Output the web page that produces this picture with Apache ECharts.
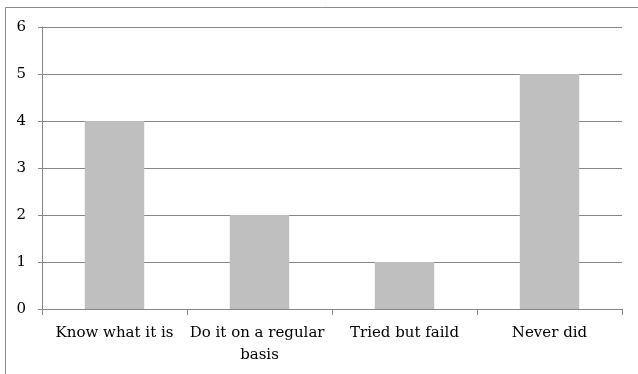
<!DOCTYPE html>
<html><head><meta charset="utf-8">
<script src="https://cdn.jsdelivr.net/npm/echarts@6/dist/echarts.min.js"></script>
<style>html,body{margin:0;padding:0;background:#fff}#c{width:638px;height:374px}</style>
</head><body><div id="c"></div>
<script>
const categories = ["Know what it is", "Do it on a regular basis", "Tried but faild", "Never did"];
const values = [4, 2, 1, 5];
const yTicks = [0, 1, 2, 3, 4, 5, 6];

const chart = echarts.init(document.getElementById('c'), null, {renderer: 'canvas'});
const font = "'DejaVu Serif', serif";
chart.setOption({
  animation: false,
  graphic: [{
    type: 'rect', shape: {x: 5.5, y: 7.5, width: 700, height: 400},
    style: {fill: 'none', stroke: '#8c8c8c', lineWidth: 1}, silent: true
  }],
  grid: {left: 42, right: 16, top: 27, bottom: 65, containLabel: false},
  xAxis: {
    type: 'category', data: categories,
    axisLine: {lineStyle: {color: '#878787', width: 1}},
    axisTick: {show: true, length: 6, alignWithLabel: false, lineStyle: {color: '#878787'}},
    axisLabel: {color: '#000', fontFamily: font, fontSize: 15, margin: 13, interval: 0,
      width: 142, overflow: 'break', lineHeight: 22}
  },
  yAxis: {
    type: 'value', min: yTicks[0], max: yTicks[yTicks.length - 1], interval: 1,
    axisLine: {show: true, lineStyle: {color: '#878787', width: 1}},
    axisTick: {show: true, length: 4, lineStyle: {color: '#878787'}},
    splitLine: {lineStyle: {color: '#878787', width: 1}},
    axisLabel: {color: '#000', fontFamily: font, fontSize: 15, margin: 16}
  },
  series: [{
    type: 'bar', data: values, barWidth: '41%',
    itemStyle: {color: '#bfbfbf'}
  }]
});
</script></body></html>
